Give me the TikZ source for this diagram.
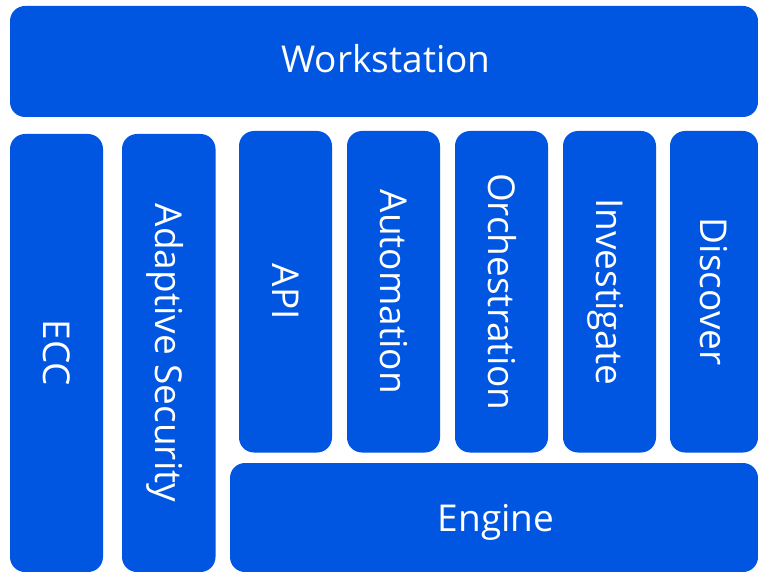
\documentclass[tikz,border=0pt]{standalone}
\usepackage{fontspec}
\setmainfont{Open Sans}
\definecolor{boxblue}{RGB}{0,86,224}
\begin{document}
\begin{tikzpicture}[x=1pt,y=-1pt,
  box/.style={fill=boxblue, draw=none, rounded corners=15pt, inner sep=0pt},
  lbl/.style={text=white, font=\fontsize{37}{44}\selectfont, inner sep=0pt,
    text height=26.4pt, text depth=0pt}]
\useasboundingbox (0,0) rectangle (758,572);
\fill[white] (0,0) rectangle (758,572);
% boxes
\node[box, minimum width=748pt, minimum height=111pt] (ws) at (384,61.5) {};
\node[box, minimum width=93pt, minimum height=438pt] (ecc) at (56.5,353) {};
\node[box, minimum width=93.5pt, minimum height=438pt] (adapt) at (168.75,353) {};
\node[box, minimum width=93pt, minimum height=321.5pt] (api) at (285.5,291.75) {};
\node[box, minimum width=93pt, minimum height=321.5pt] (auto) at (393.5,291.75) {};
\node[box, minimum width=93pt, minimum height=321.5pt] (orch) at (501.5,291.75) {};
\node[box, minimum width=93pt, minimum height=321.5pt] (inv) at (609.5,291.75) {};
\node[box, minimum width=88pt, minimum height=321.5pt] (disc) at (714,291.75) {};
\node[box, minimum width=528pt, minimum height=109pt] (eng) at (494,517.5) {};
% labels
\node[lbl, xshift=2pt, yshift=2.5pt] (wsl) at (ws.center) {Workstation};
\node[lbl, rotate=-90] (eccl) at (ecc.center) {ECC};
\node[lbl, rotate=-90] (adaptl) at (adapt.center) {Adaptive Security};
\node[lbl, rotate=-90] (apil) at (api.center) {API};
\node[lbl, rotate=-90] (autol) at (auto.center) {Automation};
\node[lbl, rotate=-90] (orchl) at (orch.center) {Orchestration};
\node[lbl, rotate=-90] (invl) at (inv.center) {Investigate};
\node[lbl, rotate=-90] (discl) at (disc.center) {Discover};
\node[lbl, xshift=2pt, yshift=-1pt] (engl) at (eng.center) {Engine};
\end{tikzpicture}
\end{document}
